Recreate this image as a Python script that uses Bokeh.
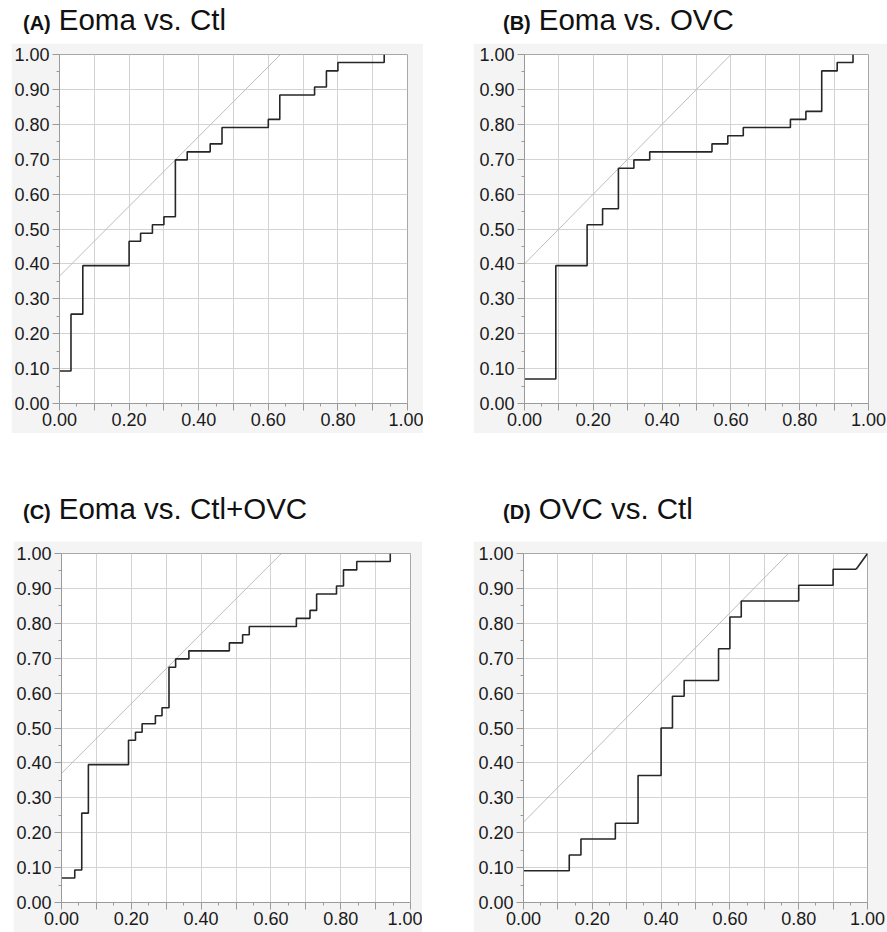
from bokeh.plotting import figure
from bokeh.models import Range1d, FixedTicker, PrintfTickFormatter, Div, Spacer
from bokeh.layouts import row, column
from bokeh.embed import file_html
from bokeh.resources import INLINE

# ---------------- data (ROC curves) ----------------
A_fpr = [0.0, 0.033, 0.067, 0.200, 0.233, 0.267, 0.300, 0.333, 0.367, 0.433,
         0.467, 0.600, 0.633, 0.733, 0.767, 0.800, 0.933]
A_tpr = [0.093, 0.256, 0.395, 0.465, 0.488, 0.512, 0.535, 0.698, 0.721, 0.744,
         0.791, 0.814, 0.884, 0.907, 0.953, 0.977, 1.0]

B_fpr = [0.0, 0.091, 0.182, 0.227, 0.273, 0.318, 0.364, 0.545, 0.591, 0.636,
         0.773, 0.818, 0.864, 0.909, 0.955]
B_tpr = [0.070, 0.395, 0.512, 0.558, 0.674, 0.698, 0.721, 0.744, 0.767, 0.791,
         0.814, 0.837, 0.953, 0.977, 1.0]

C_fpr = [0.0, 0.038, 0.058, 0.077, 0.192, 0.212, 0.231, 0.269, 0.288, 0.308,
         0.327, 0.365, 0.481, 0.519, 0.538, 0.673, 0.712, 0.731, 0.788, 0.808,
         0.846, 0.942]
C_tpr = [0.070, 0.093, 0.256, 0.395, 0.465, 0.488, 0.512, 0.535, 0.558, 0.674,
         0.698, 0.721, 0.744, 0.767, 0.791, 0.814, 0.837, 0.884, 0.907, 0.953,
         0.977, 1.0]

D_fpr = [0.0, 0.133, 0.167, 0.267, 0.333, 0.400, 0.433, 0.467, 0.567, 0.600,
         0.633, 0.800, 0.900, 0.967]
D_tpr = [0.091, 0.136, 0.182, 0.227, 0.364, 0.500, 0.591, 0.636, 0.727, 0.818,
         0.864, 0.909, 0.955, 0.955]
# tied segment at the end of panel D (drawn diagonally)
D_tie_fpr = [0.967, 1.0]
D_tie_tpr = [0.955, 1.0]

# intercepts of the grey 45-degree tangent lines
intercepts = [0.365, 0.40, 0.37, 0.23]

panel_letters = ["A", "B", "C", "D"]
panel_titles = ["Eoma vs. Ctl", "Eoma vs. OVC", "Eoma vs. Ctl+OVC", "OVC vs. Ctl"]

major_ticks = [0.0, 0.1, 0.2, 0.3, 0.4, 0.5, 0.6, 0.7, 0.8, 0.9, 1.0]
minor_ticks = [0.05, 0.15, 0.25, 0.35, 0.45, 0.55, 0.65, 0.75, 0.85, 0.95]
x_hidden_labels = [0.1, 0.3, 0.5, 0.7, 0.9]

# ---------------- styling ----------------
BG = "#f4f4f4"
FONT = "Liberation Sans"


def panel(fpr, tpr, icpt, w, h, bl, br, bt, bb, tie=None):
    p = figure(width=w, height=h, x_range=Range1d(0, 1), y_range=Range1d(0, 1),
               output_backend="svg", toolbar_location=None, tools="",
               min_border_left=bl, min_border_right=br,
               min_border_top=bt, min_border_bottom=bb, margin=0)
    p.background_fill_color = "white"
    p.border_fill_color = BG
    p.outline_line_color = "#a8a8a8"
    p.outline_line_width = 1

    for ax in (p.xaxis[0], p.yaxis[0]):
        ax.ticker = FixedTicker(ticks=major_ticks, minor_ticks=minor_ticks)
        ax.formatter = PrintfTickFormatter(format="%.2f")
        ax.axis_line_color = "#9a9a9a"
        ax.major_tick_line_color = "#9a9a9a"
        ax.minor_tick_line_color = "#9a9a9a"
        ax.major_tick_in = 0
        ax.major_tick_out = 7
        ax.minor_tick_in = 0
        ax.minor_tick_out = 3
        ax.major_label_text_font = FONT
        ax.major_label_text_font_size = "18px"
        ax.major_label_text_color = "#1a1a1a"
    p.yaxis[0].major_label_standoff = 3
    p.xaxis[0].major_label_standoff = 2
    p.xaxis[0].major_label_overrides = {v: "" for v in x_hidden_labels}

    p.grid.grid_line_color = "#d3d3d3"
    p.grid.grid_line_width = 1

    p.line([0, 1 - icpt], [icpt, 1], line_color="#bdbdbd", line_width=1)
    p.step(fpr, tpr, mode="after", line_color="#262626", line_width=1.6)
    if tie is not None:
        p.line(tie[0], tie[1], line_color="#262626", line_width=1.6)
    return p


def title_div(letter, text, w, h, pad_left, pad_top):
    html = (
        f'<div style="padding:{pad_top}px 0 0 {pad_left}px;'
        f"font-family:'Liberation Sans',Arial,sans-serif;line-height:32px;"
        f'white-space:nowrap;color:#111">'
        f'<span style="font-weight:bold;font-size:20px">({letter})</span>'
        f'<span style="font-size:29.5px;margin-left:8px">{text}</span></div>'
    )
    return Div(text=html, width=w, height=h, margin=0)


pA = panel(A_fpr, A_tpr, intercepts[0], 412, 390, 48, 16, 11, 30)
pB = panel(B_fpr, B_tpr, intercepts[1], 414, 390, 51, 19, 11, 30)
pC = panel(C_fpr, C_tpr, intercepts[2], 409, 391, 48, 12, 12, 30)
pD = panel(D_fpr, D_tpr, intercepts[3], 414, 391, 50, 20, 12, 30,
           tie=(D_tie_fpr, D_tie_tpr))

tA = title_div(panel_letters[0], panel_titles[0], 477, 43, 23, 4)
tB = title_div(panel_letters[1], panel_titles[1], 410, 43, 26, 4)
tC = title_div(panel_letters[2], panel_titles[2], 477, 108, 23, 60)
tD = title_div(panel_letters[3], panel_titles[3], 410, 108, 26, 60)

layout = column(
    row(tA, tB, margin=0),
    row(Spacer(width=11, height=390, margin=0), pA,
        Spacer(width=50, height=390, margin=0), pB, margin=0),
    row(tC, tD, margin=0),
    row(Spacer(width=13, height=391, margin=0), pC,
        Spacer(width=51, height=391, margin=0), pD, margin=0),
    margin=0,
)

open("out.html", "w").write(file_html(layout, INLINE))
